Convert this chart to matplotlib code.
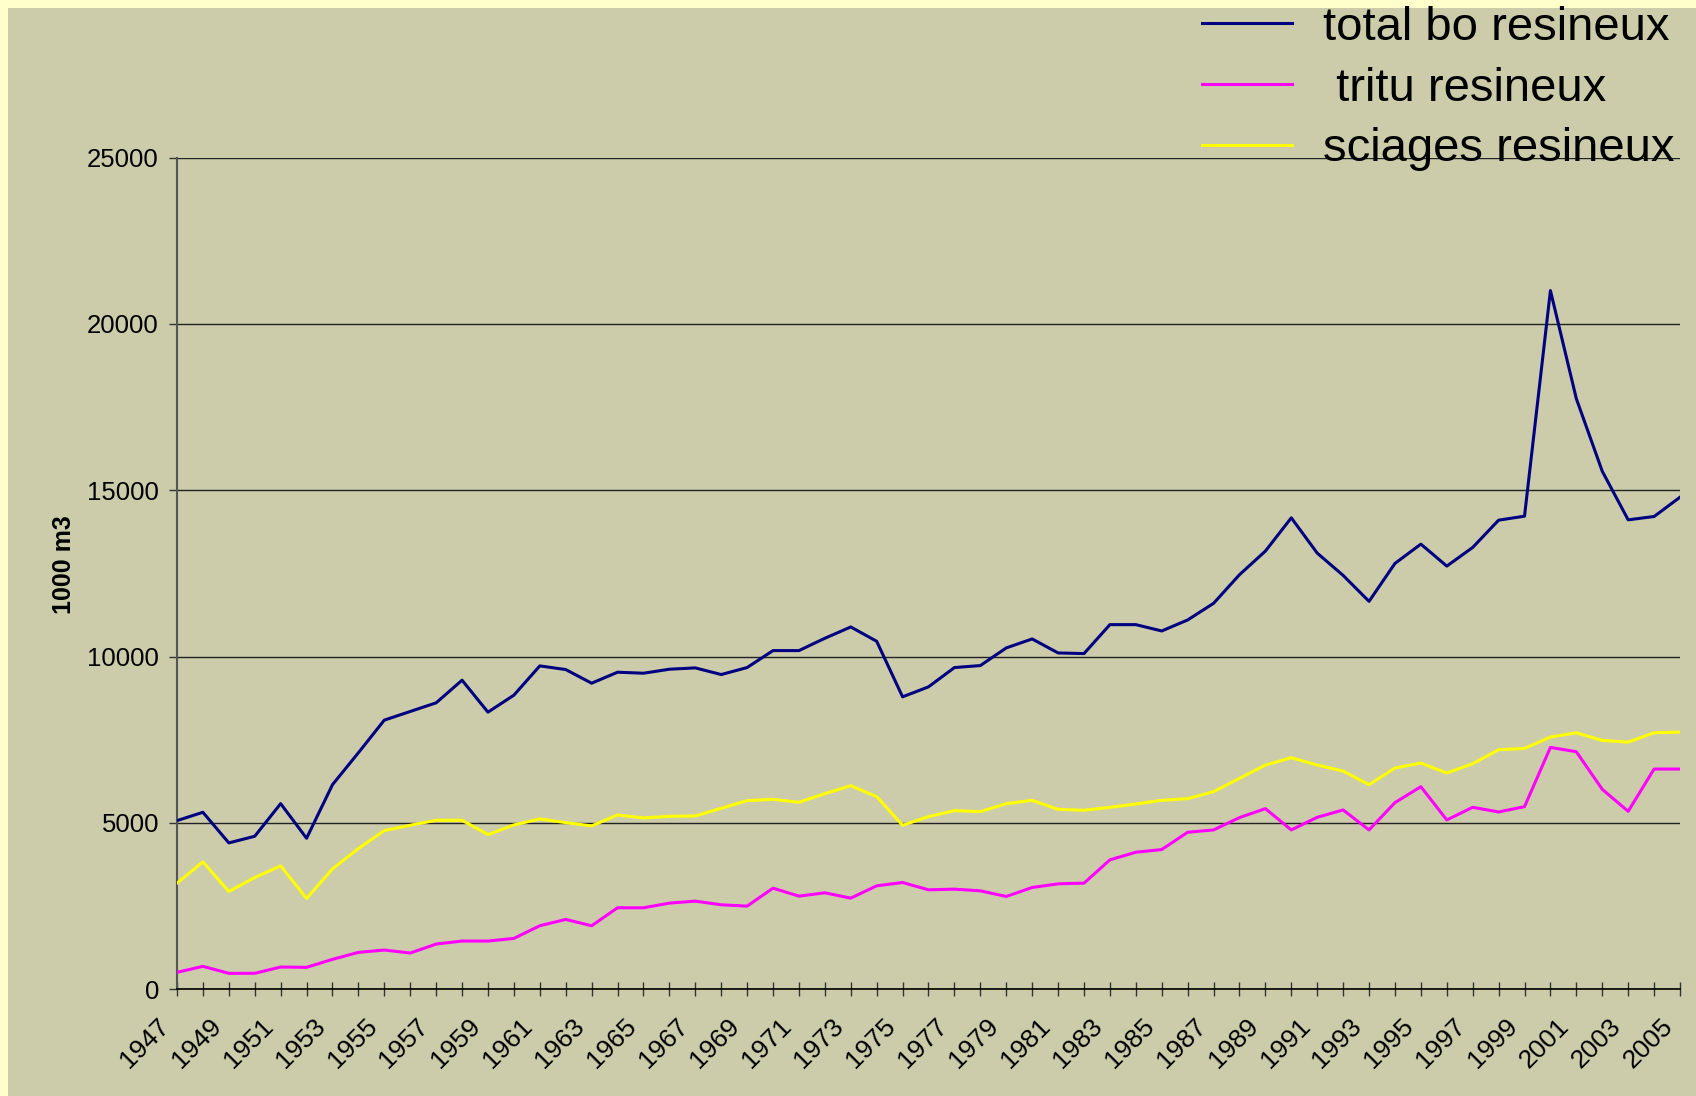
import matplotlib.pyplot as plt
import matplotlib.transforms as mtransforms
from matplotlib.patches import Rectangle

# years on the x axis
years = list(range(1947, 2006))

# volumes in 1000 m3
total_bo = [5070, 5320, 4400, 4600, 5580, 4540, 6150, 7110, 8090, 8350,
            8610, 9290, 8330, 8840, 9720, 9610, 9200, 9530, 9500, 9620,
            9660, 9460, 9670, 10180, 10180, 10550, 10890, 10460, 8790, 9090,
            9670, 9730, 10260, 10530, 10110, 10090, 10960, 10960, 10770, 11100,
            11600, 12460, 13170, 14170, 13110, 12440, 11660, 12800, 13380, 12720,
            13280, 14100, 14220, 21000, 17750, 15570, 14110, 14210, 14790]
tritu = [510, 690, 480, 480, 670, 660, 900, 1110, 1180, 1090,
         1360, 1450, 1450, 1530, 1910, 2100, 1910, 2450, 2450, 2590,
         2650, 2540, 2500, 3040, 2800, 2900, 2740, 3110, 3210, 2990,
         3010, 2960, 2790, 3060, 3170, 3190, 3890, 4120, 4200, 4720,
         4790, 5160, 5430, 4790, 5170, 5390, 4790, 5610, 6090, 5090,
         5470, 5330, 5490, 7270, 7140, 6010, 5350, 6620, 6620]
sciages = [3190, 3830, 2940, 3360, 3710, 2730, 3620, 4230, 4770, 4930,
           5080, 5080, 4650, 4940, 5120, 5010, 4910, 5240, 5150, 5200,
           5210, 5440, 5670, 5710, 5620, 5880, 6120, 5790, 4930, 5190,
           5370, 5340, 5580, 5680, 5410, 5380, 5470, 5570, 5680, 5730,
           5940, 6340, 6740, 6960, 6740, 6560, 6150, 6650, 6800, 6500,
           6780, 7200, 7240, 7580, 7710, 7480, 7430, 7710, 7730]

series_names = ['total bo resineux', ' tritu resineux', 'sciages resineux']
series_colors = ['#000080', '#FF00FF', '#FFFF00']

plt.rcParams['font.family'] = ['Liberation Sans', 'DejaVu Sans']

bg = '#CCCCAA'
fig = plt.figure(figsize=(16.96, 10.96), dpi=100, facecolor=bg)
# light yellow strips at the top and left of the slide
fig.patches.append(Rectangle((0, 0), 8 / 1696, 1, transform=fig.transFigure,
                             facecolor='#FFFFCC', edgecolor='none', zorder=0))
fig.patches.append(Rectangle((0, 1 - 8 / 1096), 1, 8 / 1096, transform=fig.transFigure,
                             facecolor='#FFFFCC', edgecolor='none', zorder=0))

ax = fig.add_axes([177 / 1696, 106.7 / 1096, (1680 - 177) / 1696, (989.3 - 157.5) / 1096])
ax.set_facecolor(bg)

lines = []
for vals, name, col in zip([total_bo, tritu, sciages], series_names, series_colors):
    ln, = ax.plot(years, vals, color=col, lw=2.2, label=name, zorder=3)
    lines.append(ln)

ax.set_xlim(1947, 2005)
ax.set_ylim(0, 25000)
ax.set_yticks(range(0, 25001, 5000))
ax.yaxis.grid(True, color='#222222', lw=1)
ax.set_axisbelow(True)

for s in ['top', 'right']:
    ax.spines[s].set_visible(False)
ax.spines['left'].set_color('#555555')
ax.spines['left'].set_linewidth(1.5)
ax.spines['bottom'].set_color('black')
ax.spines['bottom'].set_linewidth(1.2)

ax.tick_params(axis='y', direction='out', length=6, width=1, color='#333333',
               labelsize=18.5, pad=7)
ax.tick_params(axis='x', direction='inout', length=9.5, width=1, color='#333333',
               labelsize=19, pad=19)

ax.set_xticks(years)
ax.set_xticklabels([str(y) if (y - 1947) % 2 == 0 else '' for y in years])
shift = mtransforms.ScaledTranslation(-8 / 72, 0, fig.dpi_scale_trans)
for lab in ax.get_xticklabels():
    lab.set_rotation(45)
    lab.set_ha('right')
    lab.set_va('center')
    lab.set_rotation_mode('anchor')
    lab.set_transform(lab.get_transform() + shift)

ax.set_ylabel('1000 m3', fontsize=18, fontweight='bold')
ax.yaxis.set_label_coords(-0.067, 0.51)

fig.legend(handles=lines, labels=series_names, loc='upper left',
           bbox_to_anchor=(1202 / 1696, 1 - 6 / 1096), frameon=False, fontsize=34,
           handlelength=1.9, handletextpad=0.67, labelspacing=0.35,
           borderpad=0, borderaxespad=0)

fig.savefig('out.png', dpi=100, facecolor=bg)
